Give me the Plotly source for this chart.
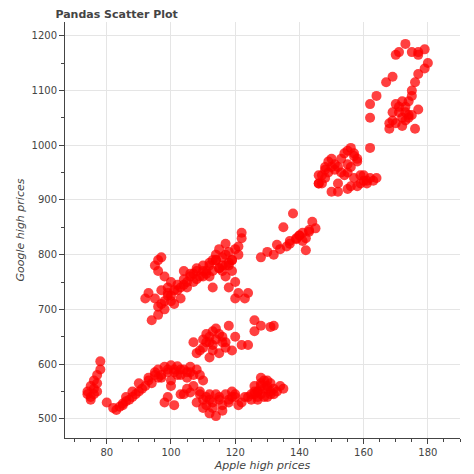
import plotly.graph_objects as go

apple_high = [
    75, 76, 74, 75, 77, 76, 77, 78, 78, 75, 77, 74, 76,
    80, 82, 85, 86, 88, 90, 92, 93, 95, 96, 98, 100, 102, 104, 106, 108, 109, 110,
    97, 99, 101, 103, 105, 94, 91, 89, 87, 84, 83, 107, 100, 104, 98, 101, 99,
    93, 95, 97, 99, 101, 103, 105, 107, 96, 100, 102, 106, 90, 88, 86, 85,
    103, 106, 109, 112, 115, 118, 120, 123, 125, 127, 128, 130, 131, 132, 133, 134,
    129, 126, 122, 110, 112, 114, 116, 113, 108, 111, 117, 119, 128, 130, 135, 124,
    105, 121, 120, 131, 127, 126, 127, 128, 129, 130, 131, 132, 128, 129, 130, 127,
    110, 111, 113, 115, 116, 118, 119, 114, 112, 109, 125, 126,
    108, 110, 111, 112, 113, 114, 115, 116, 117, 115, 112, 118, 110, 113, 119, 120,
    122, 124, 126, 128, 126, 132, 131, 107, 109, 111, 114, 116, 117, 113, 112,
    93, 95, 97, 96, 94, 98, 99, 100, 95, 96, 96, 102, 104, 106, 108, 110, 112, 114,
    116, 117, 118, 120, 121, 122, 122, 119, 119, 120, 117, 116, 115, 112, 110, 107,
    105, 103, 101, 99, 97, 113, 118, 121, 124, 123, 120, 111, 118, 104, 108, 114,
    115, 117, 113, 92, 98, 100, 96, 98, 100, 102, 104, 106, 108, 110, 112, 114, 116,
    118, 97, 99, 101, 103, 105, 107, 109, 111, 113, 115, 117, 119, 121,
    128, 130, 132, 134, 136, 137, 139, 140, 141, 142, 143, 144, 138, 141, 135, 133,
    142, 140, 137, 139, 143,
    145, 146, 147, 148, 149, 150, 151, 152, 153, 154, 155, 156, 157, 158, 156, 155,
    157, 159, 161, 163, 164, 160, 158, 155, 150, 148, 146, 152, 154, 158, 162,
    147, 149, 151, 153, 155, 157, 159, 156, 152, 150, 148, 146, 160, 161,
    162, 162, 162, 164, 167, 169, 170, 171, 173, 175, 177, 179, 177, 180, 179, 177,
    176, 175, 175, 174, 173, 172, 170, 168, 168, 171, 173, 170, 174, 176, 177, 172,
    169, 171, 173, 175, 169, 172, 174,
]
google_high = [
    560, 555, 545, 540, 550, 570, 580, 590, 605, 535, 565, 550, 545,
    530, 520, 525, 532, 540, 550, 560, 570, 580, 590, 595, 598, 596, 590, 585, 590, 580, 570,
    575, 585, 590, 580, 575, 565, 555, 545, 535, 522, 516, 560, 560, 545, 530, 525, 540,
    575, 585, 580, 590, 585, 590, 585, 580, 575, 570, 580, 595, 565, 550, 540, 528,
    545, 548, 550, 545, 540, 535, 540, 540, 545, 550, 560, 570, 565, 555, 550, 560,
    540, 545, 530, 520, 510, 505, 515, 530, 530, 540, 545, 550, 575, 555, 555, 540,
    555, 525, 545, 545, 540, 560, 550, 545, 555, 560, 550, 545, 565, 570, 540, 535,
    535, 525, 520, 535, 525, 530, 540, 545, 535, 545, 535, 550,
    620, 630, 640, 650, 660, 665, 655, 640, 630, 620, 612, 670, 645, 625, 625, 650,
    635, 635, 660, 670, 680, 670, 668, 640, 625, 655, 645, 650, 640, 635, 640,
    730, 720, 710, 690, 680, 700, 740, 750, 780, 790, 770, 745, 755, 765, 770, 780,
    785, 790, 795, 800, 805, 810, 815, 830, 840, 790, 770, 750, 760, 770, 775, 760,
    760, 750, 740, 720, 735, 725, 735, 740, 740, 730, 730, 720, 720, 770, 780, 770,
    755, 800, 810, 820, 790, 720, 760, 715, 705, 715, 725, 735, 745, 760, 775, 770,
    780, 790, 780, 785, 795, 730, 710, 740, 750, 765, 760, 765, 770, 775, 780, 790,
    800, 795,
    805, 800, 810, 815, 820, 830, 835, 840, 830, 845, 860, 875, 825, 850, 818, 808,
    835, 825, 828, 842, 848,
    930, 945, 960, 970, 975, 965, 960, 975, 985, 990, 995, 985, 975, 960, 950, 940,
    930, 935, 935, 940, 945, 925, 920, 915, 940, 930, 915, 945, 970, 995, 930,
    950, 955, 950, 965, 980, 945, 925, 930, 960, 955, 945, 935, 930, 940,
    1050, 1075, 1090, 1115, 1125, 1165, 1170, 1185, 1170, 1170, 1175, 1165, 1150, 1140,
    1130, 1115, 1100, 1090, 1080, 1060, 1050, 1040, 1030, 1040, 1060, 1070, 1075, 1050,
    1030, 1065, 1080, 1060, 1070, 1045, 1055, 1045, 1035, 1055, 1035, 1050,
]

fig = go.Figure()

fig.add_trace(
    go.Scatter(
        x=apple_high,
        y=google_high,
        mode="markers",
        marker=dict(size=10, color="red", opacity=0.75, line=dict(width=0)),
        showlegend=False,
    )
)

axis_common = dict(
    showgrid=True,
    gridcolor="#e5e5e5",
    zeroline=False,
    showline=True,
    linecolor="#444",
    ticks="outside",
    ticklen=5,
    tickcolor="#444",
    minor=dict(ticks="outside", ticklen=3, tickcolor="#444", showgrid=False),
    tickfont=dict(size=10, color="#444"),
)

fig.update_layout(
    width=474,
    height=474,
    margin=dict(l=32, r=22, t=14, b=38),
    paper_bgcolor="white",
    plot_bgcolor="white",
    font=dict(family="DejaVu Sans", color="#444"),
    title=dict(
        text="<b>Pandas Scatter Plot</b>",
        x=0.1,
        xanchor="left",
        y=0.995,
        yanchor="top",
        font=dict(size=11, color="#444"),
    ),
    xaxis=dict(
        axis_common,
        range=[67, 190],
        tickvals=[80, 100, 120, 140, 160, 180],
        title=dict(text="<i>Apple high prices</i>", font=dict(size=11), standoff=4),
    ),
    yaxis=dict(
        axis_common,
        range=[465, 1225],
        tickvals=[500, 600, 700, 800, 900, 1000, 1100, 1200],
        title=dict(text="<i>Google high prices</i>", font=dict(size=11), standoff=4),
    ),
)

fig.write_html("out.html")
